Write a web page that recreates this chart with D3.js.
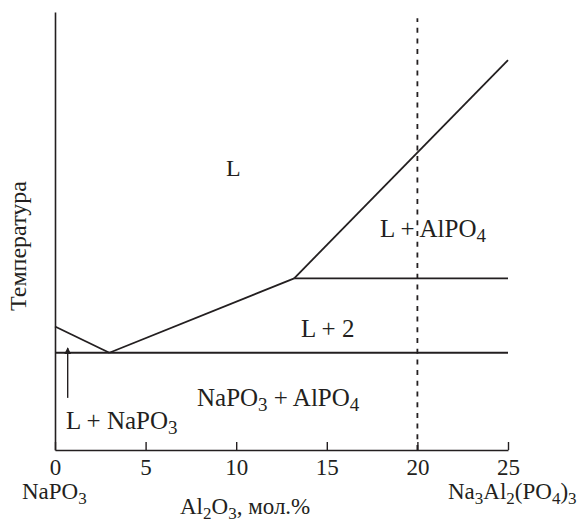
<!DOCTYPE html>
<html>
<head>
<meta charset="utf-8">
<script src="https://cdn.jsdelivr.net/npm/d3@7"></script>
<style>
  body { margin: 0; background: #fff; }
  text { font-family: "Liberation Serif", "Times New Roman", serif; fill: #231f20; }
</style>
</head>
<body>
<script>
// composition, mol.% Al2O3
var xTicks = [0, 5, 10, 15, 20, 25];

// phase boundaries (x = mol.% Al2O3, t = relative temperature)
var liquidusNaPO3 = [[0, 28.2], [3, 22.2]];
var liquidusMid = [[3, 22.2], [13.2, 39.2]];
var liquidusAlPO4 = [[13.2, 39.2], [25, 89]];
var eutecticLine = [[0, 22.2], [25, 22.2]];
var peritecticLine = [[13.2, 39.2], [25, 39.2]];
var compoundLine = [[20, 0], [20, 98.6]];
var arrowLine = [[0.7, 11.9], [0.7, 23.3]];

var width = 585;
var height = 523;

var svg = d3.select("body")
  .append("svg")
  .attr("width", width)
  .attr("height", height);

var x = d3.scaleLinear().domain([0, 25]).range([55, 508]);
var y = d3.scaleLinear().domain([0, 100]).range([450, 12]);

var line = d3.line()
  .x(function(d) { return x(d[0]); })
  .y(function(d) { return y(d[1]); });

// arrow marker
svg.append("defs").append("marker")
  .attr("id", "arrow")
  .attr("viewBox", "0 0 10 10")
  .attr("refX", 9)
  .attr("refY", 5)
  .attr("markerUnits", "userSpaceOnUse")
  .attr("markerWidth", 7)
  .attr("markerHeight", 10)
  .attr("orient", "auto")
  .append("path")
  .attr("d", "M0,0 L10,5 L0,10 z")
  .attr("fill", "#231f20");

// x axis, ticks pointing inward
var xAxis = svg.append("g")
  .attr("transform", "translate(0," + y(0) + ")")
  .call(d3.axisBottom(x).tickValues(xTicks).tickSizeInner(-8).tickSizeOuter(0).tickPadding(9));
xAxis.select(".domain").attr("stroke", "#231f20").attr("stroke-width", 1.6);
xAxis.selectAll(".tick line").attr("stroke", "#231f20").attr("stroke-width", 1.4);
xAxis.selectAll(".tick text")
  .style("font-family", "'Liberation Serif', 'Times New Roman', serif")
  .style("font-size", "23px")
  .attr("fill", "#231f20");

// y axis, no ticks
var yAxis = svg.append("g")
  .attr("transform", "translate(" + x(0) + ",0)")
  .call(d3.axisLeft(y).ticks(0).tickSizeOuter(0));
yAxis.select(".domain").attr("stroke", "#231f20").attr("stroke-width", 1.6);

// phase boundary lines
[liquidusNaPO3, liquidusMid, liquidusAlPO4, eutecticLine, peritecticLine].forEach(function(d) {
  svg.append("path")
    .datum(d)
    .attr("d", line)
    .attr("fill", "none")
    .attr("stroke", "#231f20")
    .attr("stroke-width", 1.8)
    .attr("stroke-linejoin", "round");
});

// dashed line for Na3Al2(PO4)3
svg.append("path")
  .datum(compoundLine)
  .attr("d", line)
  .attr("fill", "none")
  .attr("stroke", "#231f20")
  .attr("stroke-width", 1.8)
  .attr("stroke-dasharray", "5,5.7");

// arrow to L + NaPO3 region
svg.append("path")
  .datum(arrowLine)
  .attr("d", line)
  .attr("fill", "none")
  .attr("stroke", "#231f20")
  .attr("stroke-width", 1.4)
  .attr("marker-end", "url(#arrow)");

// text with subscripts: parts = [[text, isSub], ...]
function label(px, py, parts, size) {
  var sub = Math.round(size * 0.74);
  var t = svg.append("text")
    .attr("x", px)
    .attr("y", py)
    .style("font-size", size + "px");
  parts.forEach(function(p, i) {
    var s = t.append("tspan").text(p[0]);
    if (p[1]) {
      s.style("font-size", sub + "px").attr("dy", 5);
    } else if (i > 0 && parts[i - 1][1]) {
      s.attr("dy", -5);
    }
  });
  return t;
}

label(226, 176, [["L"]], 24);
label(380, 237, [["L + AlPO"], ["4", true]], 25);
label(301, 337, [["L + 2"]], 25);
label(197, 406, [["NaPO"], ["3", true], [" + AlPO"], ["4", true]], 25);
label(66, 429, [["L + NaPO"], ["3", true]], 25);
label(22, 499, [["NaPO"], ["3", true]], 23);
label(180, 514, [["Al"], ["2", true], ["O"], ["3", true], [", мол.%"]], 23);
label(448, 499, [["Na"], ["3", true], ["Al"], ["2", true], ["(PO"], ["4", true], [")"], ["3", true]], 23);

// y axis title
svg.append("text")
  .attr("transform", "translate(26," + 246 + ") rotate(-90)")
  .attr("text-anchor", "middle")
  .style("font-size", "24px")
  .text("Температура");
</script>
</body>
</html>
